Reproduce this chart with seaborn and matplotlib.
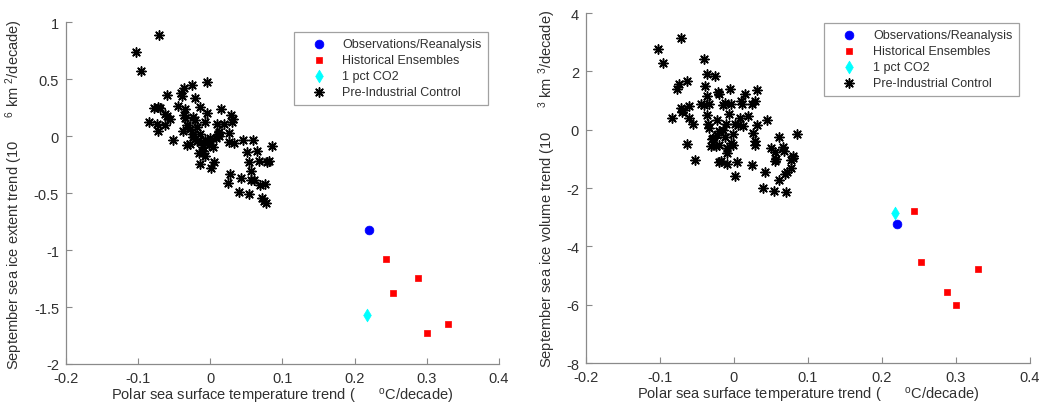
import numpy as np
import pandas as pd
import matplotlib
matplotlib.use("Agg")
import matplotlib.pyplot as plt
import seaborn as sns

# ---------------- data ----------------
obs_sst = [0.220]
obs_extent = [-0.823]
obs_volume = [-3.234]

hist_sst = [0.243, 0.253, 0.288, 0.300, 0.330]
hist_extent = [-1.078, -1.373, -1.248, -1.725, -1.646]
hist_volume = [-2.789, -4.549, -5.554, -6.011, -4.766]

co2_sst = [0.217]
co2_extent = [-1.572]
co2_volume = [-2.857]

pic_sst_extent = [
    -0.0716, -0.103, -0.096, -0.005, -0.0254, -0.0365, -0.041, -0.039, -0.0605, -0.0217,
    -0.0453, -0.078, -0.0725, -0.0697, -0.0148, 0.0152, -0.0346, -0.0624, -0.0596, -0.0559,
    -0.0365, -0.0355, -0.0042, 0.0291, -0.0845, -0.0734, -0.0633, -0.0725, -0.0245, -0.0217,
    -0.0328, -0.0069, 0.0088, 0.0189, 0.030, 0.031, -0.0374, -0.0245, -0.0143, 0.0115,
    0.0263, 0.0125, -0.0005, -0.0208, -0.0125, -0.005, -0.018, -0.0522, -0.0319, -0.028,
    0.0254, 0.0328, 0.0457, 0.0596, 0.0855, 0.0503, 0.0651, -0.0097, -0.0078, 0.0042,
    -0.002, -0.0143, 0.0051, 0.0014, 0.054, 0.067, 0.078, 0.081, 0.0568, 0.0273,
    0.042, 0.0559, 0.0605, 0.0245, 0.0688, 0.0762, 0.0393, 0.054, 0.0716, 0.0744,
    0.0771, -0.024, -0.010, -0.015, 0.008, 0.010, -0.028, -0.019, 0.000, -0.008,
]
pic_extent = [
    0.889, 0.742, 0.567, 0.479, 0.444, 0.420, 0.377, 0.356, 0.362, 0.333,
    0.262, 0.245, 0.254, 0.245, 0.254, 0.236, 0.239, 0.195, 0.175, 0.151,
    0.181, 0.160, 0.201, 0.181, 0.128, 0.107, 0.099, 0.043, 0.166, 0.137,
    0.099, 0.122, 0.107, 0.107, 0.128, 0.150, 0.049, 0.020, 0.020, 0.040,
    0.028, 0.005, -0.018, -0.024, -0.054, -0.059, -0.040, -0.036, -0.077, -0.070,
    -0.054, -0.059, -0.030, -0.036, -0.083, -0.141, -0.127, -0.127, -0.171, -0.097,
    -0.080, -0.244, -0.223, -0.279, -0.223, -0.215, -0.229, -0.220, -0.305, -0.337,
    -0.367, -0.381, -0.381, -0.413, -0.425, -0.419, -0.490, -0.507, -0.545, -0.569,
    -0.586, -0.005, -0.100, -0.150, -0.020, 0.020, 0.060, 0.080, -0.045, -0.030,
]

pic_sst_volume = [
    -0.0712, -0.1027, -0.096, -0.0405, -0.036, -0.0252, -0.0739, -0.0775, -0.0631, -0.0387,
    -0.036, -0.0216, -0.0207, -0.0054, 0.0153, 0.0306, 0.0288, 0.010, 0.0108, 0.0243,
    -0.0126, -0.0144, -0.0045, -0.0333, -0.0441, -0.0604, -0.072, -0.0703, -0.0685, -0.0838,
    -0.0613, -0.055, -0.037, -0.0072, 0.0189, -0.0225, -0.0108, 0.0081, 0.0054, 0.0117,
    0.0315, 0.045, -0.0351, -0.0333, -0.0198, -0.0225, -0.0009, -0.0297, -0.0117, 0.0252,
    0.0279, 0.0288, -0.0315, -0.0207, -0.0243, -0.0045, -0.0009, -0.0099, -0.009, -0.064,
    -0.0523, -0.0207, -0.018, -0.0099, 0.0045, 0.0018, 0.0243, 0.0423, 0.0387, 0.054,
    0.0703, 0.0604, 0.0712, 0.0694, 0.0766, 0.0766, 0.0793, 0.0802, 0.0568, 0.0559,
    0.055, 0.0495, 0.0658, 0.0676, 0.0604, 0.0856, -0.015, 0.002, -0.040, -0.028,
]
pic_volume = [
    3.154, 2.766, 2.274, 2.411, 1.897, 1.840, 1.577, 1.394, 1.680, 1.486,
    1.143, 1.290, 1.223, 1.394, 1.223, 1.349, 0.983, 0.983, 0.891, 0.891,
    0.914, 0.846, 0.869, 0.891, 0.880, 0.800, 0.754, 0.594, 0.686, 0.411,
    0.400, 0.183, 0.503, 0.549, 0.480, 0.343, 0.194, 0.400, 0.160, 0.114,
    0.171, 0.320, 0.206, 0.069, -0.034, -0.183, -0.149, -0.320, -0.263, -0.114,
    -0.377, -0.526, -0.549, -0.514, -0.549, -0.457, -0.526, -0.640, -0.800, -0.503,
    -1.051, -1.097, -1.060, -1.189, -1.097, -1.577, -1.211, -1.440, -2.011, -2.103,
    -2.149, -1.714, -1.463, -1.509, -1.303, -1.029, -0.891, -0.971, -1.006, -1.074,
    -0.777, -0.617, -0.606, -0.720, -0.263, -0.137, 0.000, 0.200, 0.850, -0.300,
]

x_ticks = [-0.2, -0.1, 0, 0.1, 0.2, 0.3, 0.4]
x_tick_labels = ["-0.2", "-0.1", "0", "0.1", "0.2", "0.3", "0.4"]
extent_ticks = [-2, -1.5, -1, -0.5, 0, 0.5, 1]
extent_tick_labels = ["-2", "-1.5", "-1", "-0.5", "0", "0.5", "1"]
volume_ticks = [-8, -6, -4, -2, 0, 2, 4]
volume_tick_labels = ["-8", "-6", "-4", "-2", "0", "2", "4"]

labels = ["Observations/Reanalysis", "Historical Ensembles", "1 pct CO2",
          "Pre-Industrial Control"]

# ---------------- style ----------------
sns.set_theme(style="white")
plt.rcParams["font.family"] = ["Liberation Sans", "DejaVu Sans"]
plt.rcParams["mathtext.fontset"] = "custom"
plt.rcParams["mathtext.rm"] = "Liberation Sans"
plt.rcParams["mathtext.it"] = "Liberation Sans:italic"
plt.rcParams["mathtext.bf"] = "Liberation Sans:bold"

spine_col = "#8a8a8a"
text_col = "#303030"

fig = plt.figure(figsize=(10.39, 4.06), dpi=100)
ax1 = fig.add_axes([0.0635, 0.101, 0.4167, 0.842])
ax2 = fig.add_axes([0.564, 0.1034, 0.4273, 0.862])

asterisk = (8, 2, 0)


def draw_panel(ax, obs_y, hist_y, co2_y, pic_x, pic_y):
    sns.scatterplot(x=obs_sst, y=obs_y, ax=ax, marker="o", s=40,
                    color="#0000ff", edgecolor="#0000ff", linewidth=0.5,
                    label=labels[0], zorder=3)
    sns.scatterplot(x=hist_sst, y=hist_y, ax=ax, marker="s", s=22,
                    color="#ff0000", edgecolor="#ff0000", linewidth=0.5,
                    label=labels[1], zorder=3)
    sns.scatterplot(x=co2_sst, y=co2_y, ax=ax, marker="d", s=42,
                    color="#00ffff", edgecolor="#00ffff", linewidth=0.5,
                    label=labels[2], zorder=3)
    sns.scatterplot(x=pic_x, y=pic_y, ax=ax, marker=asterisk, s=44,
                    color="black", edgecolor="black", linewidth=1.1,
                    label=labels[3], zorder=2)
    ax.set_xlim(-0.2, 0.4)
    ax.set_xticks(x_ticks)
    ax.set_xticklabels(x_tick_labels)
    for side in ["top", "right"]:
        ax.spines[side].set_visible(False)
    for side in ["left", "bottom"]:
        ax.spines[side].set_color(spine_col)
        ax.spines[side].set_linewidth(0.9)
    ax.tick_params(direction="in", length=4, width=0.8, colors=spine_col,
                   labelcolor=text_col, labelsize=10.5, pad=5,
                   left=True, bottom=True)
    ax.set_xlabel("Polar sea surface temperature trend (      $^{\\mathrm{o}}$C/decade)",
                  fontsize=10.5, color=text_col, labelpad=1)
    leg = ax.legend(loc="upper right", bbox_to_anchor=(0.975, 0.971),
                    fontsize=9, frameon=True, fancybox=False,
                    borderpad=0.5, labelspacing=0.32, handlelength=3.0,
                    handletextpad=0.4, borderaxespad=0)
    leg.get_frame().set_edgecolor("#8a8a8a")
    leg.get_frame().set_linewidth(0.9)
    for t in leg.get_texts():
        t.set_color(text_col)


draw_panel(ax1, obs_extent, hist_extent, co2_extent, pic_sst_extent, pic_extent)
ax1.set_ylim(-2, 1)
ax1.set_yticks(extent_ticks)
ax1.set_yticklabels(extent_tick_labels)
ax1.set_ylabel("September sea ice extent trend (10      $^{\\mathrm{6}}$ km $^{\\mathrm{2}}$/decade)",
               fontsize=10.5, color=text_col, labelpad=6)

draw_panel(ax2, obs_volume, hist_volume, co2_volume, pic_sst_volume, pic_volume)
ax2.set_ylim(-8, 4)
ax2.set_yticks(volume_ticks)
ax2.set_yticklabels(volume_tick_labels)
ax2.set_ylabel("September sea ice volume trend (10      $^{\\mathrm{3}}$ km $^{\\mathrm{3}}$/decade)",
               fontsize=10.5, color=text_col, labelpad=6)

fig.savefig("out.png", dpi=100, facecolor="white")
